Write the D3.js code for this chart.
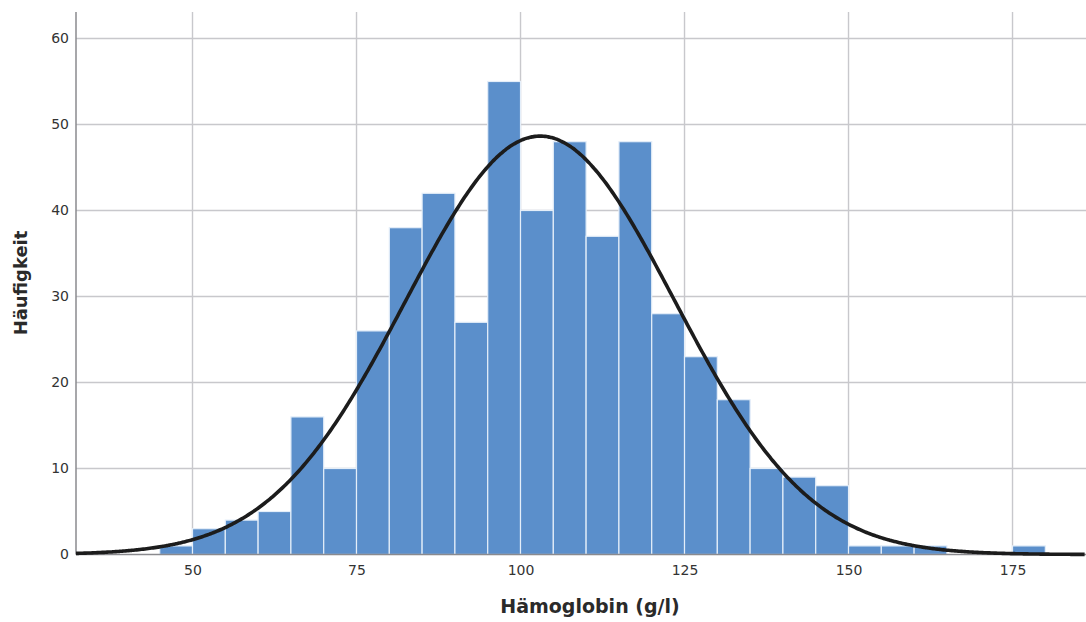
<!DOCTYPE html>
<html>
<head>
<meta charset="utf-8">
<script src="https://cdn.jsdelivr.net/npm/d3@7"></script>
<style>
  html, body { margin: 0; padding: 0; background: #fff; }
  svg { display: block; }
  text { font-family: "DejaVu Sans", "Open Sans", sans-serif; }
</style>
</head>
<body>
<svg id="chart" width="1086" height="622"></svg>
<script>
// Histogram bins (g/l), lower edges, bin width 5
const binStarts = [45,50,55,60,65,70,75,80,85,90,95,100,105,110,115,120,125,130,135,140,145,150,155,160,165,170,175];
const binCounts = [1,3,4,5,16,10,26,38,42,27,55,40,48,37,48,28,23,18,10,9,8,1,1,1,0,0,1];
const binWidth = 5;
// Fitted normal curve parameters
const curveMean = 103.0;
const curveSD = 20.5;
const xTicks = [50, 75, 100, 125, 150, 175];
const yTicks = [0, 10, 20, 30, 40, 50, 60];
const xTitle = "Hämoglobin (g/l)";
const yTitle = "Häufigkeit";

const svg = d3.select("#chart");
const mLeft = 76, mRight = 1086, mTop = 12, mBottom = 554.5;

const x = d3.scaleLinear().domain([32.24, 186.2]).range([mLeft, mRight]);
const y = d3.scaleLinear().domain([0, 63.08]).range([mBottom, mTop]);

// gridlines
const grid = svg.append("g");
grid.selectAll("line.h").data(yTicks.filter(d => d > 0)).join("line").attr("class", "h")
  .attr("x1", mLeft).attr("x2", mRight)
  .attr("y1", d => y(d)).attr("y2", d => y(d))
  .attr("stroke", "#c8c8cc").attr("stroke-width", 1.4);
grid.selectAll("line.v").data(xTicks).join("line").attr("class", "v")
  .attr("y1", mTop).attr("y2", mBottom)
  .attr("x1", d => x(d)).attr("x2", d => x(d))
  .attr("stroke", "#c8c8cc").attr("stroke-width", 1.4);

// bars
const bins = binStarts.map((s, i) => ({ x0: s, x1: s + binWidth, n: binCounts[i] })).filter(d => d.n > 0);
svg.append("g").selectAll("rect").data(bins).join("rect")
  .attr("x", d => x(d.x0))
  .attr("width", d => x(d.x1) - x(d.x0))
  .attr("y", d => y(d.n))
  .attr("height", d => y(0) - y(d.n))
  .attr("fill", "#5b8fcb")
  .attr("stroke", "#e4eef9")
  .attr("stroke-width", 1.2);

// axes
const xAxis = d3.axisBottom(x).tickValues(xTicks).tickSize(0).tickPadding(8);
const yAxis = d3.axisLeft(y).tickValues(yTicks).tickSize(0).tickPadding(7);

const gx = svg.append("g").attr("transform", `translate(0,${mBottom})`).call(xAxis);
gx.select(".domain").remove();
gx.selectAll("text").attr("font-size", 14).attr("fill", "#333").attr("dy", "0.9em")
  .style("font-family", "'DejaVu Sans', sans-serif");

const gy = svg.append("g").attr("transform", `translate(${mLeft},0)`).call(yAxis);
gy.select(".domain").remove();
gy.selectAll("text").attr("font-size", 14).attr("fill", "#333")
  .style("font-family", "'DejaVu Sans', sans-serif");

svg.append("line").attr("x1", mLeft).attr("x2", mRight).attr("y1", mBottom).attr("y2", mBottom)
  .attr("stroke", "#8a8a8e").attr("stroke-width", 1.5);
svg.append("line").attr("x1", mLeft).attr("x2", mLeft).attr("y1", mTop).attr("y2", mBottom)
  .attr("stroke", "#8a8a8e").attr("stroke-width", 1.5);

// normal curve
const total = d3.sum(binCounts);
const scaleFactor = total * binWidth / (curveSD * Math.sqrt(2 * Math.PI));
const xs = d3.range(x.domain()[0], x.domain()[1] + 0.01, 0.25);
const line = d3.line()
  .x(d => x(d))
  .y(d => y(scaleFactor * Math.exp(-0.5 * Math.pow((d - curveMean) / curveSD, 2))))
  .curve(d3.curveBasis);
svg.append("path").datum(xs).attr("d", line)
  .attr("fill", "none").attr("stroke", "#1c1c1c").attr("stroke-width", 3.6);

// titles
svg.append("text").attr("x", 590).attr("y", 613).attr("text-anchor", "middle")
  .attr("font-size", 19).attr("font-weight", "bold").attr("fill", "#2a2a2a").text(xTitle);
svg.append("text").attr("transform", "translate(27,283) rotate(-90)").attr("text-anchor", "middle")
  .attr("font-size", 18).attr("font-weight", "bold").attr("fill", "#2a2a2a").text(yTitle);
</script>
</body>
</html>
